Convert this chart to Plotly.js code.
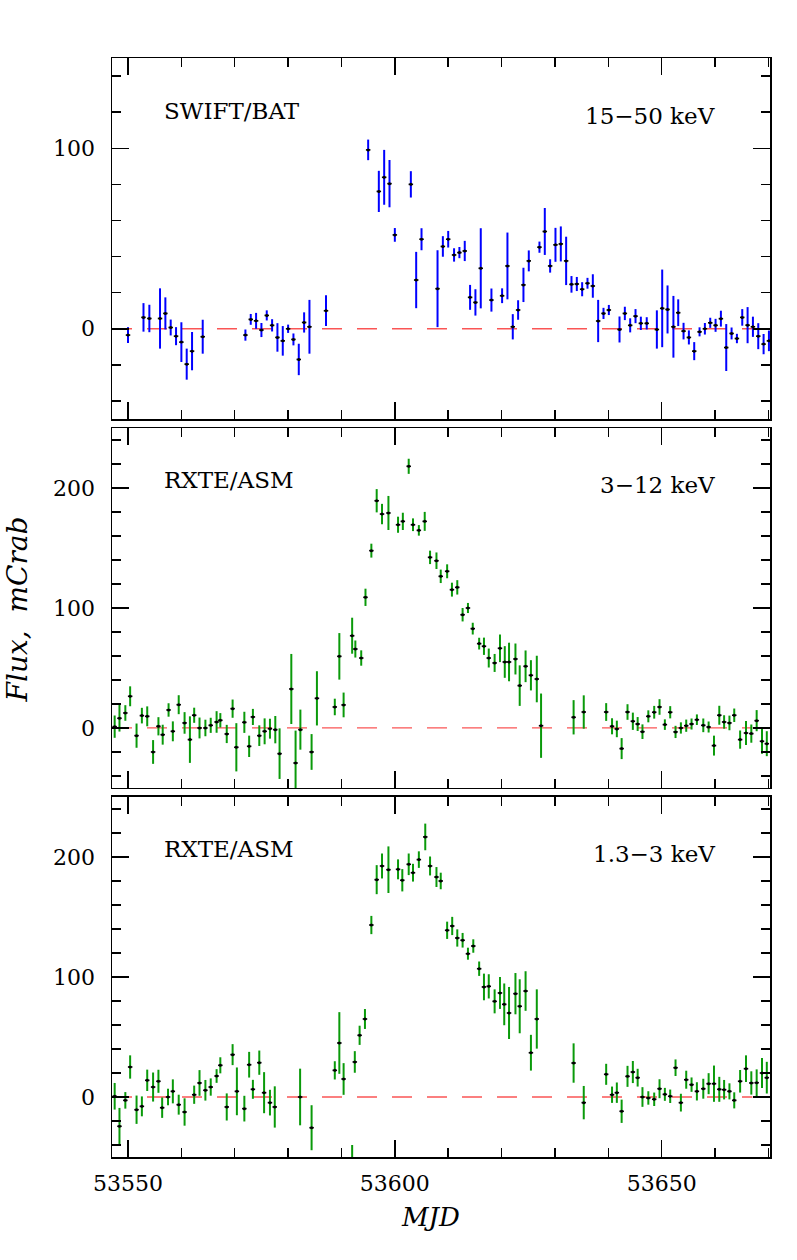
<!DOCTYPE html>
<html><head><meta charset="utf-8">
<script src="https://cdn.plot.ly/plotly-3.0.1.min.js"></script>
<style>html,body{margin:0;padding:0;background:#fff}</style>
</head><body><div id="chart" style="width:797px;height:1260px"></div>
<script>
// SWIFT/BAT 15-50 keV
const batMJD = [53550.0,53552.9,53554.0,53556.0,53557.0,53558.0,53559.0,53560.0,53561.0,53562.0,53564.0,
 53572.0,53573.0,53574.0,53575.0,53576.0,53577.0,53578.0,53579.0,53580.0,53581.0,53582.0,53583.0,53584.0,53587.1,
 53595.0,53597.0,53598.0,53599.0,53600.0,53603.0,53604.0,53605.0,53608.0,53609.0,53610.0,53611.1,53612.1,53613.1,
 53614.1,53615.1,53616.1,53618.1,53620.1,53621.1,53622.1,53623.1,53624.1,53625.1,53627.1,53628.1,53629.1,53630.1,
 53631.1,53632.1,53633.1,53634.1,53635.1,53636.1,53637.1,53638.1,53639.1,53640.1,53642.1,53643.1,53644.1,53645.1,
 53646.1,53647.2,53649.1,53650.1,53651.1,53652.2,53653.1,53654.1,53655.1,53656.1,53657.1,53658.1,53659.1,53660.1,
 53661.1,53662.1,53663.1,53664.1,53665.1,53666.1,53667.1,53668.1,53669.1,53670.1];
const batFlux = [-3.5,6.3,5.7,5.7,8.5,0.7,-4.1,-7.4,-19.6,-12.4,-4.4,
 -3.5,5.2,4.4,-0.7,7.4,1.9,-4.8,-6.7,0.0,-5.9,-17.0,3.5,1.1,10.0,
 99.1,76.1,83.9,80.4,52.0,80.0,27.0,49.6,22.2,45.6,49.6,40.9,42.2,43.1,
 17.4,14.6,33.5,15.9,18.3,34.8,1.1,10.4,24.3,37.6,45.2,53.9,34.8,46.5,
 47.0,37.6,24.6,24.8,21.9,25.2,23.7,4.3,8.5,10.4,-0.4,8.5,1.9,7.0,
 3.0,3.0,-0.4,11.3,10.7,1.1,8.9,-1.3,-4.8,-12.4,-1.7,0.0,3.3,1.9,
 5.6,-10.4,-2.6,-5.4,6.3,2.0,1.1,-4.1,-8.5,-6.7];
const batErr = [4.4,7.9,7.6,16.7,8.9,4.4,5.0,11.0,8.6,10.6,9.4,
 3.1,3.0,4.4,3.9,2.8,3.4,7.9,8.2,2.3,3.3,8.7,5.6,14.9,8.5,
 5.7,11.4,15.2,13.1,3.8,7.3,15.6,6.1,21.3,5.7,4.6,3.7,3.1,5.6,
 6.9,7.3,22.2,6.4,4.1,18.5,7.0,5.4,9.5,5.8,3.1,13.0,3.7,9.4,
 9.7,13.4,4.6,3.9,3.9,3.0,6.5,11.7,3.1,2.8,7.2,3.7,3.9,3.9,
 3.7,3.4,10.6,21.5,13.3,17.1,7.4,4.6,3.9,5.0,2.5,3.2,2.8,3.6,
 4.4,13.0,3.3,2.6,4.6,10.0,5.6,7.2,5.6,5.7];

// RXTE/ASM 3-12 keV
const hardMJD = [53547.5,53548.4,53549.5,53550.4,53551.6,53552.6,53553.6,53554.7,53555.7,53556.5,
 53557.6,53558.4,53559.5,53560.6,53561.6,53562.4,53563.4,53564.5,53565.5,53566.6,
 53567.3,53568.5,53569.6,53570.3,53571.8,53572.7,53573.4,53574.6,53575.6,53576.6,
 53577.6,53578.4,53580.6,53581.4,53582.3,53584.4,53585.4,53588.75,53589.6,53590.4,
 53592.0,53592.6,53593.7,53594.5,53595.6,53596.6,53597.6,53598.8,53600.6,53601.5,
 53602.6,53603.4,53604.5,53605.6,53606.6,53607.8,53608.6,53609.8,53610.7,53611.7,
 53612.7,53613.7,53614.6,53615.8,53616.7,53617.6,53618.7,53619.7,53620.6,53621.4,
 53622.6,53623.4,53624.5,53625.5,53626.6,53627.4,53633.5,53635.4,53639.6,53640.7,
 53641.6,53642.5,53643.6,53644.6,53645.5,53646.4,53647.5,53648.6,53649.6,53650.6,
 53651.6,53652.6,53653.6,53654.6,53655.6,53656.6,53657.8,53658.8,53659.8,53660.8,
 53661.7,53662.7,53663.6,53664.7,53665.8,53666.8,53667.8,53668.8,53669.7];
const hardFlux = [1.1,8.1,12.5,26.4,-6.4,10.3,9.7,-20,1.4,-5.6,
 15,-2.8,19.4,4.2,-9.7,10.6,0,0,2.2,5,
 6.4,-5,16.1,-16.1,4.7,-15.3,9.2,-6.4,-2.8,-0.6,
 -1.4,-21.4,32.5,-29.2,-1.4,-20,24.7,17.5,59.7,19.2,
 76.9,65.8,58.3,108.9,147.8,189.4,178.3,179.2,169.4,172.2,
 218.1,169.4,164.7,172.2,142.2,139.4,126.4,130.6,115.3,117.2,
 94.4,100,82.8,70.3,68.1,58.3,54.2,66.4,55,55,
 57.5,35.3,51.4,43.9,40.8,1.9,8.9,13.3,13.3,1.4,
 -0.8,-17.2,13.3,5.6,3.3,-3.1,9.7,13.1,17.5,2.8,
 13.1,-3.3,0,1.9,3.3,6.9,2.2,0.8,-14.7,10.6,
 5,4.2,10.6,-9.7,-4.2,-4.7,6.1,-11.1,-13.1];
const hardErr = [9.3,11.1,6.5,8.3,10.1,6.5,8.3,9.9,7.6,8.3,
 5.6,8.3,7.9,9,19.4,6.3,8.7,6.9,6.3,9,
 6,7.6,7.6,20.1,8.8,8.9,6.7,8.6,10.8,8.3,
 11.4,21.1,29.2,27,16.7,14.9,22.6,6.9,19.4,10.3,
 15,7.1,6.4,7.2,5.8,9.7,8.5,14.2,6.7,7.2,
 6.3,5.3,4.4,7.9,5.6,6.9,5.6,5.8,5.8,6,
 5.6,4.2,4.9,4.9,7.2,7.9,7.5,11.5,13.2,16.1,
 12.9,16.9,13.2,12.6,19.4,26.8,14.3,13.9,7.4,6.7,
 6.9,8.75,6.5,7.2,5.8,6.1,5,5.3,6.5,4.4,
 5.1,5.1,4.7,5.1,4.6,4.4,5.7,4.6,8.3,7.9,
 5.6,6.1,5.6,7.6,10,7.6,8.8,10.4,10.4];

// RXTE/ASM 1.3-3 keV
const softMJD = [53547.5,53548.4,53549.5,53550.4,53551.6,53552.6,53553.6,53554.7,53555.7,53556.4,
 53557.5,53558.4,53559.5,53560.6,53562.4,53563.4,53564.5,53565.5,53566.6,53567.3,
 53568.5,53569.6,53570.4,53571.8,53572.7,53573.4,53574.6,53575.5,53576.6,53577.5,
 53582.25,53584.4,53588.75,53589.6,53590.4,53592.0,53592.5,53593.4,53594.4,53595.6,
 53596.6,53597.6,53598.8,53600.6,53601.4,53602.6,53603.4,53604.5,53605.7,53606.6,
 53607.8,53608.6,53609.8,53610.75,53611.7,53612.7,53613.7,53614.7,53615.8,53616.7,
 53617.6,53618.7,53619.7,53620.5,53621.4,53622.6,53623.4,53624.5,53625.5,53626.6,
 53633.5,53635.4,53639.6,53640.7,53641.6,53642.5,53643.6,53644.6,53645.5,53646.4,
 53647.5,53648.6,53649.6,53650.6,53651.6,53652.6,53653.6,53654.6,53655.6,53656.6,
 53657.8,53658.8,53659.8,53660.8,53661.7,53662.7,53663.6,53664.7,53665.8,53666.8,
 53667.8,53668.8,53669.7];
const softFlux = [0.6,-24.4,-2.8,25,-10.6,-7.8,13.9,8.3,13.1,-8.9,
 0,4.7,-6.4,-12.5,1.9,11.7,5.6,8.3,17.5,26.4,
 -8.3,35.3,4.7,-9.7,26.9,6.4,28.6,3.6,-4.7,-8.3,
 0,-25.6,22.2,45,15,-62,29.2,51.4,65,143.3,
 181.1,192.5,189.4,189.7,180.6,193.9,186.9,197.8,216.7,192.5,
 183.3,180,138.9,142.5,132.5,130.6,119.4,125.8,106.9,91.7,
 92.2,79.7,86.7,77.2,70,86.1,75.6,88.3,36.9,65,
 28.3,-4.7,18.9,1.9,3.6,-11.9,17.2,20.8,16.1,0,
 -0.8,-1.9,6.9,2.2,0.6,24.4,-4.7,14.4,10.3,4.7,
 6.9,11.1,11.1,6.4,6.1,4.7,-2.8,13.1,23.6,11.7,
 11.9,20,16.1];
const softErr = [11.1,15.3,6.9,9.7,11.8,8.3,8.9,12.1,9.6,8.5,
 6.9,10,8.3,11.4,7.6,10.7,8.6,7.2,5.7,6.7,
 11.3,8.75,19.9,10.7,10.7,7.9,10.1,17.1,10.7,17.2,
 23.6,18.75,7.6,25.7,13.2,22,9,8,8.3,7.6,
 12.1,10.4,19.4,8.3,9.3,9,7.4,6.9,11.1,7.9,
 8.3,6.9,7.2,7.6,7.2,6.1,5,5.6,6,11.1,
 10.1,10,13.3,17.4,21.7,17.2,22.5,16.5,14.9,24.7,
 16.4,13.9,8.75,6.8,8.5,9.7,8.75,9.2,7.4,8.2,
 5.6,5.6,7.9,5.4,5.6,6.9,7.4,7.5,6,7.6,
 8.3,8.75,15.1,10.4,8.1,6.7,6.7,9.4,11.1,9.7,
 11.1,12.5,13.2];

const zeroLineX = [53547, 53667];
const zeroLineY = [0, 0];

const panelLabels = ["SWIFT/BAT", "RXTE/ASM", "RXTE/ASM"];
const bandLabels = ["15\u221250 keV", "3\u221212 keV", "1.3\u22123 keV"];
const xTitle = "MJD";
const yTitle = "Flux,  mCrab";

const BLUE = '#0000ff', GREEN = '#0a9a0a', REDDASH = 'rgb(250,85,85)';
const SERIF = 'DejaVu Serif';

function lc(x, y, e, color, xa, ya) {
  return {type:'scatter', mode:'markers', x:x, y:y, xaxis:xa, yaxis:ya,
    marker:{color:'black', size:3},
    error_y:{type:'data', array:e, visible:true, color:color, thickness:2, width:0},
    error_x:{type:'constant', value:0.42, visible:true, color:'black', thickness:1.6, width:0},
    showlegend:false, hoverinfo:'skip', cliponaxis:true};
}
function zl(xa, ya) {
  return {type:'scatter', mode:'lines', x:zeroLineX, y:zeroLineY, xaxis:xa, yaxis:ya,
    line:{color:REDDASH, width:1.3, dash:'20px,15px'}, showlegend:false, hoverinfo:'skip'};
}

const data = [
  zl('x3','y3'), lc(batMJD, batFlux, batErr, BLUE, 'x3', 'y3'),
  zl('x2','y2'), lc(hardMJD, hardFlux, hardErr, GREEN, 'x2', 'y2'),
  zl('x','y'),   lc(softMJD, softFlux, softErr, GREEN, 'x', 'y')
];

const frame = {showline:true, mirror:'allticks', linecolor:'black', linewidth:1.5,
  ticks:'inside', ticklen:17, tickwidth:1.5, tickcolor:'black', showgrid:false, zeroline:false,
  tickfont:{family:SERIF, size:22, color:'black'}, tickformat:'d', exponentformat:'none', separatethousands:false};
function xax(anchor, labels) {
  return Object.assign({}, frame, {anchor:anchor, domain:[0,1], range:[53547, 53670.3],
    tick0:53550, dtick:50, showticklabels:labels, ticklabelstandoff:6,
    minor:{tick0:53550, dtick:10, ticks:'inside', ticklen:9, tickwidth:1.5, tickcolor:'black', showgrid:false}});
}
function yax(anchor, dom, rng) {
  return Object.assign({}, frame, {anchor:anchor, domain:dom, range:rng,
    tick0:0, dtick:100, ticklabelstandoff:11,
    minor:{tick0:0, dtick:20, ticks:'inside', ticklen:9, tickwidth:1.5, tickcolor:'black', showgrid:false}});
}

const ann = [];
const labPos = [['x3','y3',120.9,117.9],['x2','y2',207.1,202.9],['x','y',206.7,202.5]];
labPos.forEach(function(p, i){
  ann.push({xref:p[0], yref:p[1], x:53556.3, y:p[2], text:panelLabels[i], showarrow:false,
    xanchor:'left', yanchor:'middle', font:{family:SERIF, size:23, color:'black'}});
  ann.push({xref:p[0], yref:p[1], x:53660.4, y:p[3], text:bandLabels[i], showarrow:false,
    xanchor:'right', yanchor:'middle', font:{family:SERIF, size:23, color:'black'}});
});
ann.push({xref:'paper', yref:'paper', x:-0.1429, y:0.4982, text:'<i>'+yTitle+'</i>', showarrow:false,
  textangle:-90, xanchor:'center', yanchor:'middle', font:{family:SERIF, size:28, color:'black'}});
ann.push({xref:'paper', yref:'paper', x:0.4833, y:-0.0546, text:'<i>'+xTitle+'</i>', showarrow:false,
  xanchor:'center', yanchor:'middle', font:{family:SERIF, size:26, color:'black'}});

const layout = {
  width:797, height:1260, paper_bgcolor:'white', plot_bgcolor:'white',
  margin:{l:112, r:27, t:58, b:103},
  showlegend:false,
  xaxis: xax('y', true),
  xaxis2: xax('y2', false),
  xaxis3: xax('y3', false),
  yaxis: yax('x', [0, 0.3276], [-50, 250]),
  yaxis2: yax('x2', [0.3358, 0.6633], [-50, 250]),
  yaxis3: yax('x3', [0.6715, 1], [-50, 150]),
  annotations: ann
};

Plotly.newPlot('chart', data, layout, {staticPlot:true, displayModeBar:false});
</script>
</body></html>
